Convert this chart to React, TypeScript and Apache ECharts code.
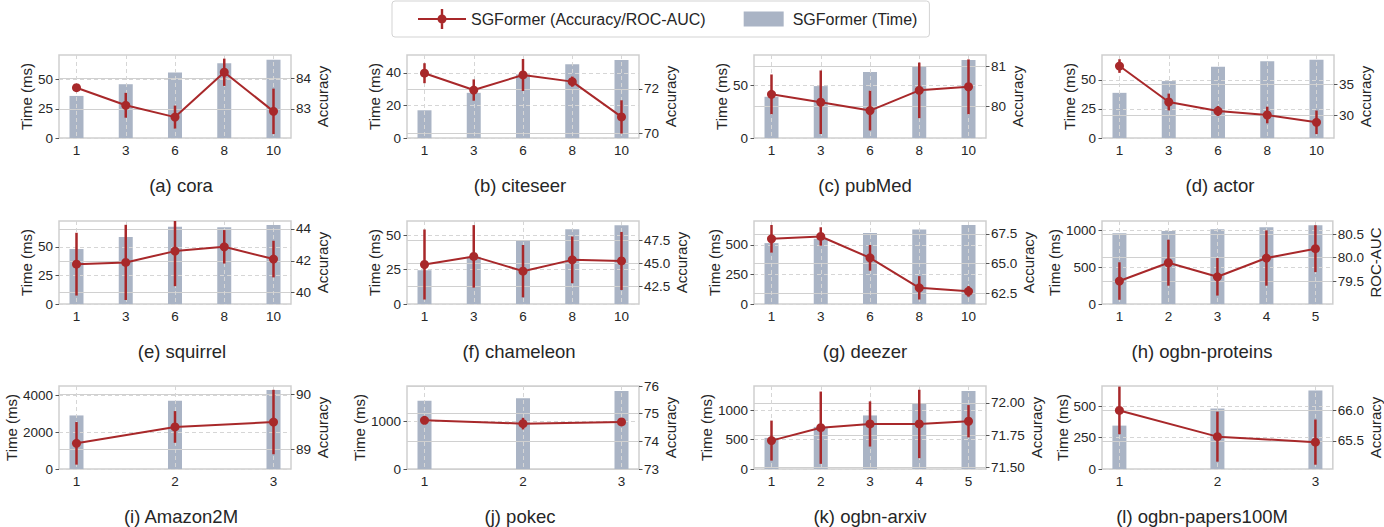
import React, { useEffect, useRef } from 'react';
import * as echarts from 'echarts';

const ACC_NAME = 'SGFormer (Accuracy/ROC-AUC)';
const TIME_NAME = 'SGFormer (Time)';
const RED = '#a8282a';
const BAR = '#aab4c5';
const TXT = '#262626';
const FONT = "'Liberation Sans', Arial, Helvetica, sans-serif";

// categories
const layerCats = ['1', '3', '6', '8', '10'];
const fiveCats = ['1', '2', '3', '4', '5'];
const threeCats = ['1', '2', '3'];

// (a) cora
const coraTime = [36, 46, 56, 64, 67];
const coraAcc = [83.7, 83.12, 82.73, 84.21, 82.92];
const coraErr = [0.11, 0.41, 0.38, 0.45, 0.75];
// (b) citeseer
const citeseerTime = [17, 27.7, 39, 45.2, 47.8];
const citeseerAcc = [72.71, 71.95, 72.63, 72.33, 70.74];
const citeseerErr = [0.45, 0.48, 0.72, 0.23, 0.75];
// (c) pubMed
const pubmedTime = [39.2, 49.4, 62.8, 67.5, 74.2];
const pubmedAcc = [80.3, 80.1, 79.89, 80.4, 80.49];
const pubmedErr = [0.5, 0.8, 0.5, 0.7, 0.69];
// (d) actor
const actorTime = [38.8, 48.9, 61.2, 65.9, 67.2];
const actorAcc = [37.95, 32.15, 30.69, 30.05, 28.87];
const actorErr = [1.1, 1.35, 0.8, 1.34, 1.9];
// (e) squirrel
const squirrelTime = [48, 58.5, 67.5, 67, 69];
const squirrelAcc = [41.79, 41.9, 42.61, 42.88, 42.11];
const squirrelErr = [1.97, 2.36, 2.2, 1.05, 1.15];
// (f) chameleon
const chameleonTime = [24.5, 34.2, 46.4, 54.2, 57.1];
const chameleonAcc = [44.89, 45.78, 44.16, 45.4, 45.28];
const chameleonErr = [3.84, 3.43, 2.87, 2.56, 3.18];
// (g) deezer
const deezerTime = [514, 551, 599, 630, 667];
const deezerAcc = [67.09, 67.29, 65.48, 62.94, 62.64];
const deezerErr = [1.17, 0.78, 1.09, 0.99, 0.45];
// (h) ogbn-proteins
const proteinsTime = [965, 996, 1019, 1046, 1073];
const proteinsAuc = [79.5, 79.89, 79.59, 79.99, 80.19];
const proteinsErr = [0.4, 0.49, 0.4, 0.59, 0.5];
// (i) Amazon2M
const amazonTime = [2919, 3714, 4308];
const amazonAcc = [89.11, 89.41, 89.5];
const amazonErr = [0.39, 0.29, 0.59];
// (j) pokec
const pokecTime = [1422, 1478, 1629];
const pokecAcc = [74.76, 74.64, 74.7];
const pokecErr = [0.05, 0.21, 0.05];
// (k) ogbn-arxiv
const arxivTime = [532, 719, 915, 1125, 1334];
const arxivAcc = [71.707, 71.807, 71.836, 71.836, 71.857];
const arxivErr = [0.155, 0.28, 0.175, 0.265, 0.125];
// (l) ogbn-papers100M
const papersTime = [345, 481, 624];
const papersAcc = [66.0, 65.57, 65.48];
const papersErr = [0.39, 0.41, 0.37];

// tick labels
const cora_tTicks = [0, 25, 50];
const cora_aTicks = [83, 84];
const citeseer_tTicks = [0, 20, 40];
const citeseer_aTicks = [70, 72];
const pubmed_tTicks = [0, 50];
const pubmed_aTicks = [80, 81];
const actor_tTicks = [0, 25, 50];
const actor_aTicks = [30, 35];
const squirrel_tTicks = [0, 25, 50];
const squirrel_aTicks = [40, 42, 44];
const chameleon_tTicks = [0, 25, 50];
const chameleon_aTicks = [42.5, 45, 47.5];
const deezer_tTicks = [0, 250, 500];
const deezer_aTicks = [62.5, 65, 67.5];
const proteins_tTicks = [0, 500, 1000];
const proteins_aTicks = [79.5, 80, 80.5];
const amazon_tTicks = [0, 2000, 4000];
const amazon_aTicks = [89, 90];
const pokec_tTicks = [0, 1000];
const pokec_aTicks = [73, 74, 75, 76];
const arxiv_tTicks = [0, 500, 1000];
const arxiv_aTicks = [71.5, 71.75, 72];
const papers_tTicks = [0, 250, 500];
const papers_aTicks = [65.5, 66];

const panels = [
  { title: '(a) cora', cats: layerCats, time: coraTime, acc: coraAcc, err: coraErr, tMax: 71, tTicks: cora_tTicks, aMin: 82.04, aMax: 84.78, aTicks: cora_aTicks, dec: 0, aName: 'Accuracy', lGap: 22, rGap: 20, tx: 181 },
  { title: '(b) citeseer', cats: layerCats, time: citeseerTime, acc: citeseerAcc, err: citeseerErr, tMax: 50.9, tTicks: citeseer_tTicks, aMin: 69.79, aMax: 73.53, aTicks: citeseer_aTicks, dec: 0, aName: 'Accuracy', lGap: 22, rGap: 21, tx: 520 },
  { title: '(c) pubMed', cats: layerCats, time: pubmedTime, acc: pubmedAcc, err: pubmedErr, tMax: 79, tTicks: pubmed_tTicks, aMin: 79.2, aMax: 81.29, aTicks: pubmed_aTicks, dec: 0, aName: 'Accuracy', lGap: 22, rGap: 20, tx: 865 },
  { title: '(d) actor', cats: layerCats, time: actorTime, acc: actorAcc, err: actorErr, tMax: 71.3, tTicks: actor_tTicks, aMin: 26.34, aMax: 39.73, aTicks: actor_aTicks, dec: 0, aName: 'Accuracy', lGap: 22, rGap: 19, tx: 1220 },
  { title: '(e) squirrel', cats: layerCats, time: squirrelTime, acc: squirrelAcc, err: squirrelErr, tMax: 72.5, tTicks: squirrel_tTicks, aMin: 39.29, aMax: 44.5, aTicks: squirrel_aTicks, dec: 0, aName: 'Accuracy', lGap: 22, rGap: 20, tx: 182 },
  { title: '(f) chameleon', cats: layerCats, time: chameleonTime, acc: chameleonAcc, err: chameleonErr, tMax: 60.2, tTicks: chameleon_tTicks, aMin: 40.56, aMax: 49.66, aTicks: chameleon_aTicks, dec: 1, aName: 'Accuracy', lGap: 22, rGap: 30, tx: 519 },
  { title: '(g) deezer', cats: layerCats, time: deezerTime, acc: deezerAcc, err: deezerErr, tMax: 700.8, tTicks: deezer_tTicks, aMin: 61.57, aMax: 68.6, aTicks: deezer_aTicks, dec: 1, aName: 'Accuracy', lGap: 27, rGap: 30, tx: 865 },
  { title: '(h) ogbn-proteins', cats: fiveCats, time: proteinsTime, acc: proteinsAuc, err: proteinsErr, tMax: 1132, tTicks: proteins_tTicks, aMin: 79.01, aMax: 80.78, aTicks: proteins_aTicks, dec: 1, aName: 'ROC-AUC', lGap: 35, rGap: 29, tx: 1202 },
  { title: '(i) Amazon2M', cats: threeCats, time: amazonTime, acc: amazonAcc, err: amazonErr, tMax: 4524, tTicks: amazon_tTicks, aMin: 88.64, aMax: 90.16, aTicks: amazon_aTicks, dec: 0, aName: 'Accuracy', lGap: 29, rGap: 20, tx: 181 },
  { title: '(j) pokec', cats: threeCats, time: pokecTime, acc: pokecAcc, err: pokecErr, tMax: 1731, tTicks: pokec_tTicks, aMin: 73, aMax: 76, aTicks: pokec_aTicks, dec: 0, aName: 'Accuracy', lGap: 37, rGap: 21, tx: 520 },
  { title: '(k) ogbn-arxiv', cats: fiveCats, time: arxivTime, acc: arxivAcc, err: arxivErr, tMax: 1418, tTicks: arxiv_tTicks, aMin: 71.487, aMax: 72.13, aTicks: arxiv_aTicks, dec: 2, aName: 'Accuracy', lGap: 35, rGap: 36, tx: 870 },
  { title: '(l) ogbn-papers100M', cats: threeCats, time: papersTime, acc: papersAcc, err: papersErr, tMax: 660, tTicks: papers_tTicks, aMin: 65.04, aMax: 66.4, aTicks: papers_aTicks, dec: 1, aName: 'Accuracy', lGap: 29, rGap: 29, tx: 1202 },
];

const COL_LEFT = [59, 407, 754, 1102];
const ROW_TOP = [55, 221, 386];
const TITLE_Y = [185.5, 351, 516];
const PW = 232;
const PH = 83;

const ACC_ICON = 'path://M0 8.9h48v2.2H0z M22.8 0h2.4v20h-2.4z M19.5 10a4.5 4.5 0 1 1 9 0a4.5 4.5 0 1 1 -9 0z';
const TIME_ICON = 'path://M0 0h0.05v0.05h-0.05z M48 20h-0.05v-0.05h0.05z M4 2.5h40v15h-40z';

const HIDDEN_LINE = { show: true, onZero: false, lineStyle: { color: 'rgba(0,0,0,0)', width: 1 } };

function buildOption() {
  const grid: any[] = [];
  const xAxis: any[] = [];
  const yAxis: any[] = [];
  const series: any[] = [];
  const graphic: any[] = [];

  panels.forEach((p, i) => {
    const c = i % 4;
    const r = Math.floor(i / 4);
    const n = p.cats.length;
    const m = (17.5 * (n - 1)) / 197;
    const idx = p.cats.map((_, k) => k);

    grid.push({
      left: COL_LEFT[c], top: ROW_TOP[r], width: PW, height: PH,
      show: true, borderColor: '#cfcfcf', borderWidth: 1.5, backgroundColor: 'transparent',
    });

    xAxis.push({
      gridIndex: i, type: 'value', min: -m, max: n - 1 + m, z: 3,
      axisLine: { show: false, onZero: false },
      axisTick: { show: false, customValues: idx },
      axisLabel: {
        customValues: idx, margin: 5, fontSize: 13.5, color: TXT, fontFamily: FONT,
        formatter: (v: number) => p.cats[Math.round(v)] ?? '',
      },
      splitLine: { show: true, lineStyle: { type: [4, 3], color: '#d6d6d6', width: 1 } },
    });

    yAxis.push({
      gridIndex: i, type: 'value', position: 'left', min: 0, max: p.tMax, z: 3,
      name: 'Time (ms)', nameLocation: 'middle', nameGap: p.lGap,
      nameTextStyle: { fontSize: 15, color: TXT, fontFamily: FONT },
      axisLine: HIDDEN_LINE,
      axisTick: { show: true, length: 3.5, customValues: p.tTicks, lineStyle: { color: '#555', width: 1 } },
      axisLabel: {
        customValues: p.tTicks, margin: 6, fontSize: 13.5, color: TXT, fontFamily: FONT,
        formatter: (v: number) => String(v),
      },
      splitLine: { show: true, lineStyle: { type: [4, 3], color: '#d6d6d6', width: 1 } },
    });

    yAxis.push({
      gridIndex: i, type: 'value', position: 'right', min: p.aMin, max: p.aMax, z: 3,
      name: p.aName, nameLocation: 'middle', nameGap: p.rGap,
      nameTextStyle: { fontSize: 15, color: TXT, fontFamily: FONT },
      axisLine: HIDDEN_LINE,
      axisTick: { show: true, length: 3.5, customValues: p.aTicks, lineStyle: { color: '#555', width: 1 } },
      axisLabel: {
        customValues: p.aTicks, margin: 5, fontSize: 13.5, color: TXT, fontFamily: FONT,
        formatter: (v: number) => v.toFixed(p.dec),
      },
      splitLine: { show: true, lineStyle: { type: 'solid', color: '#d0d0d0', width: 1.2 } },
    });

    series.push({
      type: 'bar', name: TIME_NAME, xAxisIndex: i, yAxisIndex: 2 * i,
      data: p.time.map((v, k) => [k, v]), barWidth: 14,
      itemStyle: { color: BAR }, z: 2,
    });

    series.push({
      type: 'line', name: ACC_NAME, xAxisIndex: i, yAxisIndex: 2 * i + 1,
      data: p.acc.map((v, k) => [k, v]),
      symbol: 'circle', symbolSize: 9,
      lineStyle: { width: 2, color: RED }, itemStyle: { color: RED }, z: 6,
    });

    series.push({
      type: 'custom', name: ACC_NAME, xAxisIndex: i, yAxisIndex: 2 * i + 1,
      data: p.acc.map((v, k) => [k, v - p.err[k], v + p.err[k]]),
      encode: { x: 0, y: [1, 2] }, clip: true, z: 5,
      itemStyle: { color: RED },
      renderItem: (params: any, api: any) => {
        const x = api.value(0);
        const lo = api.coord([x, api.value(1)]);
        const hi = api.coord([x, api.value(2)]);
        return {
          type: 'line',
          shape: { x1: lo[0], y1: lo[1], x2: hi[0], y2: hi[1] },
          style: { stroke: RED, lineWidth: 2.5 },
        };
      },
    });

    graphic.push({
      type: 'text', x: p.tx, y: TITLE_Y[r], z: 10,
      style: {
        text: p.title, fontSize: 18.5, fontFamily: FONT, fill: TXT,
        align: 'center', verticalAlign: 'middle', textAlign: 'center', textVerticalAlign: 'middle',
      },
    });
  });

  return {
    animation: false,
    backgroundColor: '#ffffff',
    textStyle: { fontFamily: FONT },
    legend: {
      left: 392, top: 1,
      padding: [8, 12, 8, 26],
      itemGap: 34, itemWidth: 48, itemHeight: 20,
      borderColor: '#d3d3d3', borderWidth: 1, borderRadius: 3,
      textStyle: { fontSize: 16, color: TXT, fontFamily: FONT },
      data: [
        { name: ACC_NAME, icon: ACC_ICON, itemStyle: { color: RED } },
        { name: TIME_NAME, icon: TIME_ICON, itemStyle: { color: BAR } },
      ],
    },
    grid, xAxis, yAxis, series, graphic,
  };
}

export default function App() {
  const ref = useRef<HTMLDivElement>(null);
  useEffect(() => {
    if (!ref.current) return;
    const chart = echarts.init(ref.current, undefined, { renderer: 'svg' });
    chart.setOption(buildOption() as any);
    return () => chart.dispose();
  }, []);
  return (
    <div
      ref={ref}
      style={{ position: 'fixed', left: 0, top: 0, width: 1384, height: 527, background: '#fff' }}
    />
  );
}
